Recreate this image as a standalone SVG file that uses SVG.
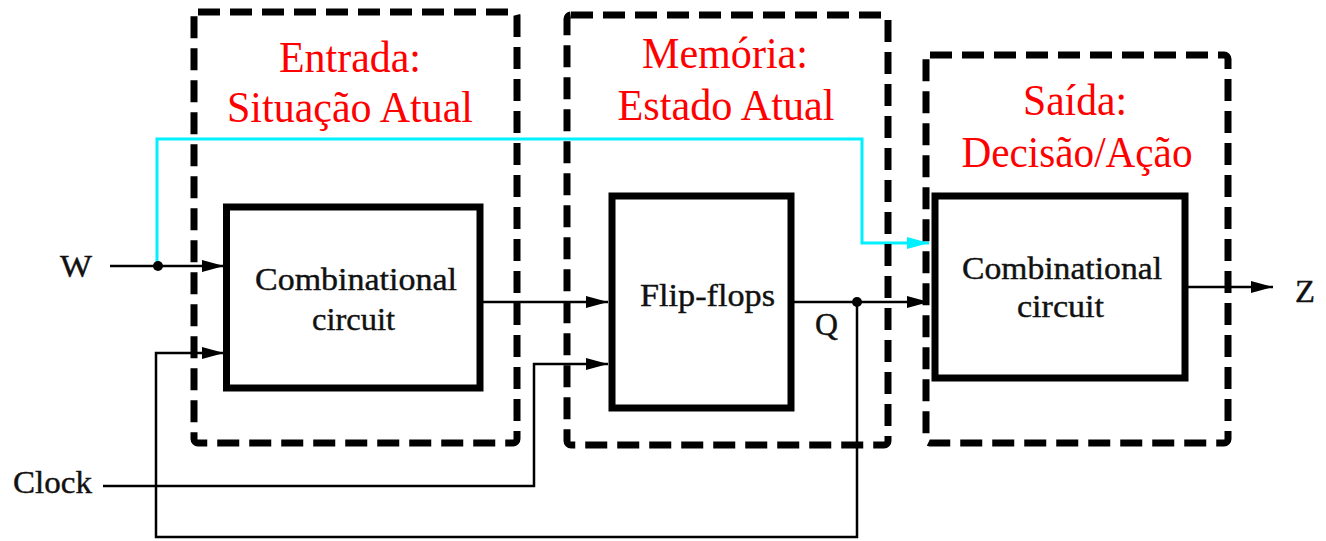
<svg xmlns="http://www.w3.org/2000/svg" width="1326" height="541" viewBox="0 0 1326 541">
<defs>
<style>
.zone{fill:none;stroke:#000;stroke-width:7;stroke-dasharray:22 10;stroke-linejoin:round}
.blk{fill:#fff;stroke:#000;stroke-width:7}
.wire{fill:none;stroke:#000;stroke-width:2.5}
.cy{fill:none;stroke:#00f0ff;stroke-width:3}
.lbl{font-family:"Liberation Serif","Times New Roman",serif;fill:#111;font-size:31px;stroke:#111;stroke-width:0.4}
.red{font-family:"Liberation Serif","Times New Roman",serif;fill:#ff0000;font-size:44px;text-anchor:middle}
</style>
<marker id="ah" markerUnits="userSpaceOnUse" markerWidth="24" markerHeight="14" refX="22" refY="6" orient="auto">
<path d="M0,0 L22,6 L0,12 z" fill="#000"/>
</marker>
<marker id="ahc" markerUnits="userSpaceOnUse" markerWidth="24" markerHeight="14" refX="22" refY="6" orient="auto">
<path d="M0,0 L22,6 L0,12 z" fill="#00f0ff"/>
</marker>
</defs>
<rect width="1326" height="541" fill="#fff"/>

<g id="connectors">
<path class="cy" d="M157,266 V139 H862 V243 H929" marker-end="url(#ahc)"/>
<path class="wire" d="M110,266 H224" marker-end="url(#ah)"/>
<path class="wire" d="M857,302 V537 H156 V353 H224" marker-end="url(#ah)"/>
<path class="wire" d="M480,302 H608" marker-end="url(#ah)"/>
<path class="wire" d="M103,486 H534 V364 H608" marker-end="url(#ah)"/>
<path class="wire" d="M791,302 H929" marker-end="url(#ah)"/>
<path class="wire" d="M1185,287 H1273" marker-end="url(#ah)"/>
<circle cx="158" cy="266" r="5" fill="#000"/>
<circle cx="857" cy="302" r="5" fill="#000"/>
</g>

<g id="zone-entrada">
<rect class="zone" x="194" y="12" width="323" height="431" rx="4"/>
<text class="red" x="350" y="72" textLength="142" lengthAdjust="spacingAndGlyphs">Entrada:</text>
<text class="red" x="350" y="122" textLength="246" lengthAdjust="spacingAndGlyphs">Situação Atual</text>
</g>
<g id="zone-memoria">
<rect class="zone" x="567" y="15" width="321" height="430" rx="4"/>
<text class="red" x="725" y="68" textLength="166" lengthAdjust="spacingAndGlyphs">Memória:</text>
<text class="red" x="726" y="120" textLength="217" lengthAdjust="spacingAndGlyphs">Estado Atual</text>
</g>
<g id="zone-saida">
<rect class="zone" x="926" y="55" width="302" height="388" rx="4"/>
<text class="red" x="1075" y="115" textLength="104" lengthAdjust="spacingAndGlyphs">Saída:</text>
<text class="red" x="1077" y="167" textLength="231" lengthAdjust="spacingAndGlyphs">Decisão/Ação</text>
</g>

<g id="comb1">
<rect class="blk" x="226.5" y="207" width="253.5" height="181"/>
<text class="lbl" x="255" y="290" textLength="202" lengthAdjust="spacingAndGlyphs">Combinational</text>
<text class="lbl" x="312" y="330" textLength="83" lengthAdjust="spacingAndGlyphs">circuit</text>
</g>
<g id="flipflops">
<rect class="blk" x="612" y="196" width="179" height="212"/>
<text class="lbl" x="640" y="306" textLength="135" lengthAdjust="spacingAndGlyphs">Flip-flops</text>
</g>
<g id="comb2">
<rect class="blk" x="935" y="196" width="250" height="182"/>
<text class="lbl" x="962" y="279" textLength="200" lengthAdjust="spacingAndGlyphs">Combinational</text>
<text class="lbl" x="1017" y="317" textLength="87" lengthAdjust="spacingAndGlyphs">circuit</text>
</g>

<g id="labels">
<text class="lbl" x="60" y="277" textLength="32" lengthAdjust="spacingAndGlyphs">W</text>
<text class="lbl" x="13" y="493" textLength="79" lengthAdjust="spacingAndGlyphs">Clock</text>
<text class="lbl" x="815" y="335" textLength="23" lengthAdjust="spacingAndGlyphs">Q</text>
<text class="lbl" x="1295" y="302" textLength="20" lengthAdjust="spacingAndGlyphs">Z</text>
</g>
</svg>
